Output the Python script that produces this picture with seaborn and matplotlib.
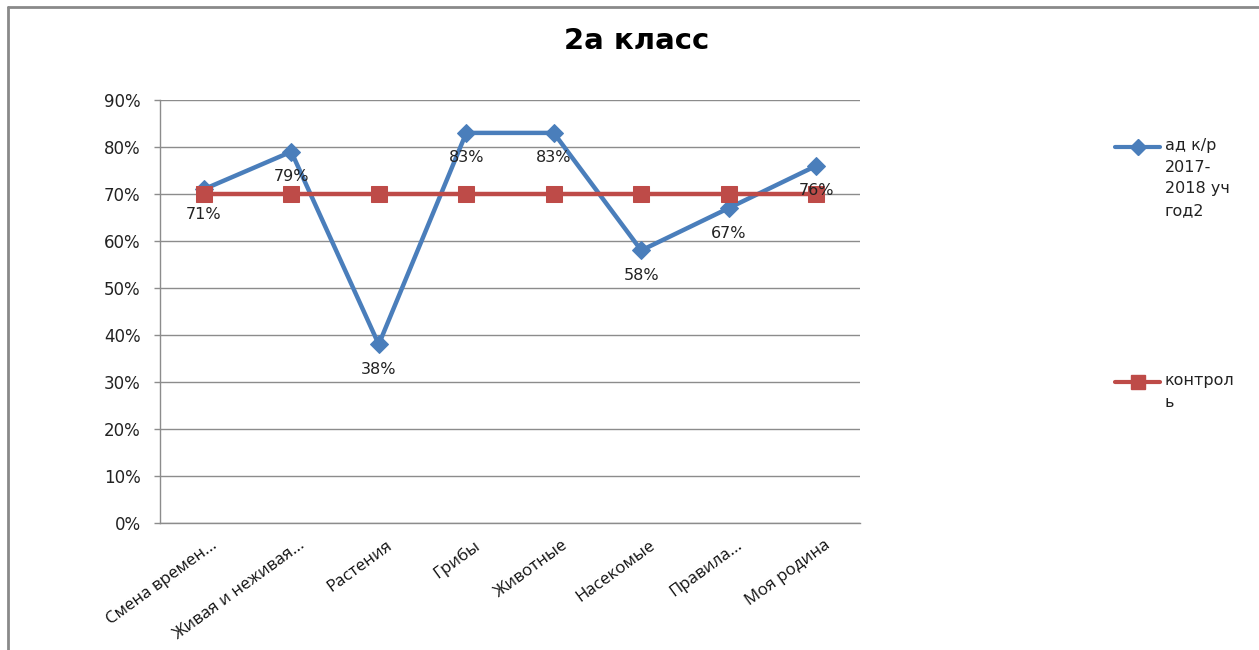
import matplotlib
matplotlib.use("Agg")
import matplotlib.pyplot as plt
from matplotlib.lines import Line2D
from matplotlib.transforms import ScaledTranslation
import seaborn as sns
import pandas as pd

categories = ["Смена времен...", "Живая и неживая...", "Растения", "Грибы",
              "Животные", "Насекомые", "Правила...", "Моя родина"]
series_main = [0.71, 0.79, 0.38, 0.83, 0.83, 0.58, 0.67, 0.76]
series_control = [0.70, 0.70, 0.70, 0.70, 0.70, 0.70, 0.70, 0.70]
name_main = "ад к/р\n2017-\n2018 уч\nгод2"
name_control = "контрол\nь"
title = "2а класс"
y_ticks = [0, 0.1, 0.2, 0.3, 0.4, 0.5, 0.6, 0.7, 0.8, 0.9]

BLUE = "#4A7EBB"
RED = "#BE4B48"
GRID = "#8C8C8C"

sns.set_theme(style="white")
plt.rcParams['font.family'] = ['DejaVu Sans']

W, H = 1259, 650
fig = plt.figure(figsize=(W / 100, H / 100), dpi=100)
ax = fig.add_axes([160 / W, 1 - 523 / H, 700 / W, 423 / H])

pos = list(range(len(categories)))
df = pd.DataFrame({"x": pos, "main": series_main, "control": series_control})

sns.lineplot(data=df, x="x", y="main", ax=ax, color=BLUE, lw=3.2, marker="D",
             markersize=9, markeredgecolor=BLUE, sort=False, zorder=3)
sns.lineplot(data=df, x="x", y="control", ax=ax, color=RED, lw=3.2, marker="s",
             markersize=11, markeredgecolor=RED, sort=False, zorder=4)

for x, v in zip(pos, series_main):
    ax.annotate(f"{round(v * 100)}%", (x, v), xytext=(0, -18), textcoords="offset points",
                ha="center", va="center", fontsize=11.5, color="#222222", zorder=6)

ax.set_xlim(-0.5, len(categories) - 0.5)
ax.set_ylim(0, 0.9)
ax.set_yticks(y_ticks)
ax.set_yticklabels([f"{round(t * 100)}%" for t in y_ticks], fontsize=12, color="#222222")
ax.tick_params(axis="x", length=0, pad=15)
ax.tick_params(axis="y", length=4, width=1, color=GRID, direction="out", left=True, pad=10)
ax.set_xticks(pos)
ax.set_xticklabels(categories, rotation=36, ha="right", va="center", rotation_mode="anchor",
                   fontsize=12.2, family="Open Sans", color="#111111")
shift = ScaledTranslation(12 / 100, 0, fig.dpi_scale_trans)
for lab in ax.get_xticklabels():
    lab.set_transform(lab.get_transform() + shift)
ax.set_xlabel("")
ax.set_ylabel("")
ax.grid(axis="y", color=GRID, lw=1)
ax.grid(axis="x", visible=False)
ax.set_axisbelow(True)
for s in ["top", "right"]:
    ax.spines[s].set_visible(False)
for s in ["left", "bottom"]:
    ax.spines[s].set_color(GRID)
    ax.spines[s].set_linewidth(1)

fig.text(637 / W, 1 - 41 / H, title, ha="center", va="center", fontsize=21,
         fontweight="bold", color="black")

# legend (drawn manually to keep handle aligned to the first text line)
def legend_entry(y_px, color, marker, ms, label):
    fig.add_artist(Line2D([1115 / W, 1160 / W], [1 - y_px / H] * 2, color=color, lw=3,
                          transform=fig.transFigure))
    fig.add_artist(Line2D([1138 / W], [1 - y_px / H], color=color, marker=marker,
                          markersize=ms, transform=fig.transFigure))
    fig.text(1165 / W, 1 - (y_px - 9) / H, label, ha="left", va="top", fontsize=11.5,
             color="#222222", linespacing=1.55)

legend_entry(147, BLUE, "D", 8, name_main)
legend_entry(382, RED, "s", 10, name_control)

# outer frame (top and left edges visible)
fig.add_artist(Line2D([8 / W, 1], [1 - 7 / H, 1 - 7 / H], color="#8A8A8A", lw=2,
                      transform=fig.transFigure))
fig.add_artist(Line2D([8 / W, 8 / W], [0, 1 - 7 / H], color="#8A8A8A", lw=2,
                      transform=fig.transFigure))

fig.savefig("out.png", dpi=100, facecolor="white")
